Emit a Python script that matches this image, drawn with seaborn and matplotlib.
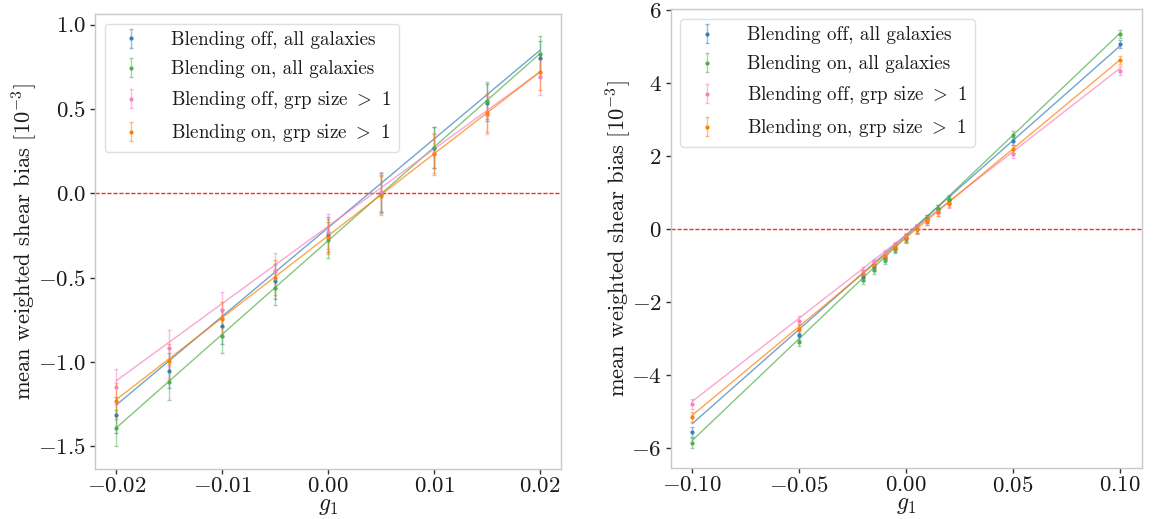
import numpy as np
import pandas as pd
import matplotlib
matplotlib.use("Agg")
import matplotlib.pyplot as plt
import seaborn as sns

# Applied shear values
g_inner = [-0.02, -0.015, -0.01, -0.005, 0.0, 0.005, 0.01, 0.015, 0.02]
g_outer_lo = [-0.1, -0.05]
g_outer_hi = [0.05, 0.1]

labels = [
    "Blending off, all galaxies",
    "Blending on, all galaxies",
    "Blending off, grp size $>$ 1",
    "Blending on, grp size $>$ 1",
]
colors = ["#377eb8", "#4daf4a", "#f781bf", "#ff7f00"]

# Mean weighted shear bias [1e-3] on the fine shear grid
bias_off_all = [-1.316, -1.052, -0.789, -0.523, -0.245, 0.004, 0.27, 0.537, 0.80]
bias_on_all = [-1.392, -1.119, -0.844, -0.560, -0.277, -0.005, 0.27, 0.549, 0.826]
bias_off_grp = [-1.148, -0.918, -0.690, -0.460, -0.228, 0.008, 0.24, 0.464, 0.69]
bias_on_grp = [-1.233, -0.997, -0.749, -0.500, -0.257, -0.014, 0.23, 0.476, 0.718]
err_inner = [0.105, 0.105, 0.105, 0.105, 0.105, 0.115, 0.12, 0.11, 0.105]

# Extra points at large |g1|
bias_off_all_lo, bias_off_all_hi = [-5.57, -2.92], [2.41, 5.06]
bias_on_all_lo, bias_on_all_hi = [-5.87, -3.09], [2.575, 5.34]
bias_off_grp_lo, bias_off_grp_hi = [-4.80, -2.51], [2.05, 4.34]
bias_on_grp_lo, bias_on_grp_hi = [-5.16, -2.73], [2.18, 4.63]
err_outer_lo = [0.14, 0.12]
err_outer_hi = [0.11, 0.11]

# Linear fits (slope, intercept) for each sample
fit_slope_small = [52.6, 55.5, 45.8, 48.6]
fit_icpt_small = [-0.2045, -0.282, -0.1965, -0.2525]
fit_slope_wide = [51.75, 55.8, 45.65, 48.7]
fit_icpt_wide = [-0.165, -0.22, -0.165, -0.24]

sns.set_style("white")
plt.rcParams["font.family"] = ["cmr10", "DejaVu Sans"]
plt.rcParams["mathtext.fontset"] = "cm"
plt.rcParams["axes.formatter.use_mathtext"] = True
plt.rcParams["font.size"] = 16
plt.rcParams["text.color"] = "#1a1a1a"
plt.rcParams["axes.labelcolor"] = "#1a1a1a"

inner = [bias_off_all, bias_on_all, bias_off_grp, bias_on_grp]
lo = [bias_off_all_lo, bias_on_all_lo, bias_off_grp_lo, bias_on_grp_lo]
hi = [bias_off_all_hi, bias_on_all_hi, bias_off_grp_hi, bias_on_grp_hi]

fig = plt.figure(figsize=(11.55, 5.19), dpi=100)
ax1 = fig.add_axes([0.0823, 0.0963, 0.4035, 0.8767])
ax2 = fig.add_axes([0.5807, 0.0983, 0.408, 0.884])


def draw(ax, gs, ys, errs, slopes, icpts, ylim, xlim, ylab_x):
    ax.axhline(0, color="#ff2a2a", ls=(0, (3, 1.3)), lw=1.0, zorder=1)
    for i in range(4):
        g = np.asarray(gs[i])
        fit = pd.DataFrame({"g1": g, "bias": slopes[i] * g + icpts[i]})
        sns.lineplot(data=fit, x="g1", y="bias", ax=ax, color=colors[i],
                     lw=1.0, alpha=0.7, legend=False)
        ax.errorbar(g, ys[i], yerr=errs[i], fmt=".", ms=4, color=colors[i],
                    ecolor=colors[i], elinewidth=1.0, capsize=1.5,
                    label=labels[i])
        # soften the error bars
        for c in ax.containers[-1].lines[2]:
            c.set_alpha(0.5)
        for c in ax.containers[-1].lines[1]:
            c.set_alpha(0.5)
    ax.set_xlim(*xlim)
    ax.set_ylim(*ylim)
    ax.set_xlabel("$g_1$", fontsize=17)
    ax.set_ylabel(r"mean weighted shear bias $[10^{-3}]$", fontsize=16.2)
    ax.yaxis.set_label_coords(ylab_x, 0.5)
    ax.xaxis.set_label_coords(0.5, -0.057)
    for s in ax.spines.values():
        s.set_color("#c8c8c8")
        s.set_linewidth(1.0)
    ax.tick_params(axis="both", which="major", direction="out", length=3.5,
                   width=1.0, color="#333333", left=True, bottom=True,
                   labelsize=16.5, labelcolor="#1a1a1a")
    ax.tick_params(axis="x", pad=2)
    ax.tick_params(axis="y", pad=3)
    ax.legend(loc="upper left", fontsize=13.7, frameon=True, framealpha=0.8,
              edgecolor="#d8d8d8", handletextpad=1.1, labelspacing=0.58)


draw(ax1, [g_inner] * 4, inner, [err_inner] * 4,
     fit_slope_small, fit_icpt_small, (-1.636, 1.063), (-0.022, 0.022), -0.120)
ax1.set_xticks([-0.02, -0.01, 0.0, 0.01, 0.02])
ax1.set_yticks([-1.5, -1.0, -0.5, 0.0, 0.5, 1.0])

g_all = g_outer_lo + g_inner + g_outer_hi
ys_all = [lo[i] + inner[i] + hi[i] for i in range(4)]
e_all = err_outer_lo + err_inner + err_outer_hi
draw(ax2, [g_all] * 4, ys_all, [e_all] * 4,
     fit_slope_wide, fit_icpt_wide, (-6.55, 6.02), (-0.11, 0.1103), -0.080)
ax2.set_xticks([-0.10, -0.05, 0.0, 0.05, 0.10])
ax2.set_yticks([-6, -4, -2, 0, 2, 4, 6])

fig.savefig("out.png", dpi=100)
